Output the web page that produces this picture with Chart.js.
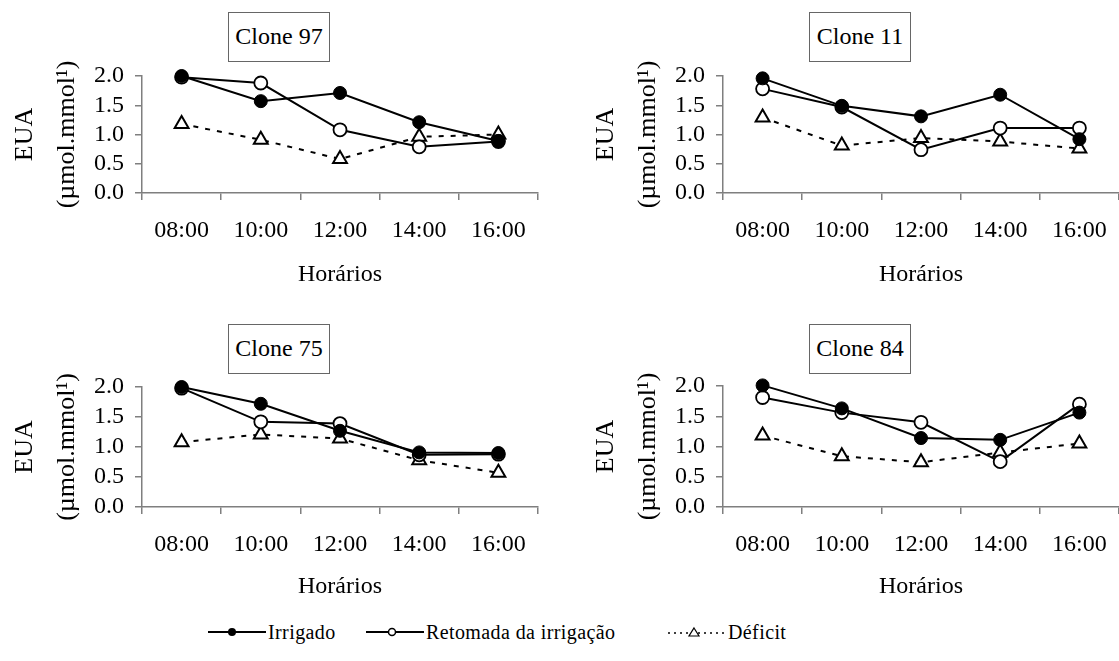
<!DOCTYPE html>
<html>
<head>
<meta charset="utf-8">
<script src="https://cdn.jsdelivr.net/npm/chart.js@4.4.1/dist/chart.umd.min.js"></script>
<style>
  html, body { margin:0; padding:0; background:#fff; width:1119px; height:661px; overflow:hidden; position:relative; font-family:"Liberation Serif", "Times New Roman", serif; }
  canvas { position:absolute; }
  .box { position:absolute; border:1.5px solid #666; background:#fff; font-size:24px; color:#000; text-align:center; box-sizing:border-box; line-height:47px; }
  #legend { position:absolute; top:619px; left:0; width:1119px; height:26px; font-size:20px; letter-spacing:0.4px; color:#000; }
  #legend .item { position:absolute; top:0; height:26px; display:flex; align-items:center; white-space:nowrap; }
  #legend svg { display:block; }
</style>
</head>
<body>
<div id="legend">
  <div class="item" style="left:208px"><svg width="58" height="16"><line x1="0" y1="8" x2="58" y2="8" stroke="#000" stroke-width="2"/><circle cx="24" cy="8" r="4" fill="#000"/></svg><span style="margin-left:2px">Irrigado</span></div>
  <div class="item" style="left:366px"><svg width="58" height="16"><line x1="0" y1="8" x2="58" y2="8" stroke="#000" stroke-width="2"/><circle cx="26" cy="8" r="3.5" fill="#fff" stroke="#000" stroke-width="1.5"/></svg><span style="margin-left:2px">Retomada da irrigação</span></div>
  <div class="item" style="left:668px"><svg width="56" height="16"><line x1="0" y1="9" x2="56" y2="9" stroke="#000" stroke-width="1.5" stroke-dasharray="2,4"/><polygon points="26,4 31,12 21,12" fill="#fff" stroke="#000" stroke-width="1.2"/></svg><span style="margin-left:4px">Déficit</span></div>
</div>
<script>
const horarios = ['08:00', '10:00', '12:00', '14:00', '16:00'];
const seriesNames = ['Irrigado', 'Retomada da irrigação', 'Déficit'];
const yTicks = [0, 0.5, 1.0, 1.5, 2.0];

const clone97Irrigado  = [2.00, 1.57, 1.71, 1.21, 0.89];
const clone97Retomada  = [1.98, 1.88, 1.08, 0.79, 0.88];
const clone97Deficit   = [1.18, 0.91, 0.58, 0.96, 1.00];

const clone11Irrigado  = [1.96, 1.49, 1.31, 1.68, 0.92];
const clone11Retomada  = [1.78, 1.47, 0.74, 1.11, 1.11];
const clone11Deficit   = [1.29, 0.81, 0.94, 0.88, 0.76];

const clone75Irrigado  = [2.00, 1.72, 1.27, 0.91, 0.90];
const clone75Retomada  = [1.98, 1.42, 1.39, 0.87, 0.88];
const clone75Deficit   = [1.08, 1.21, 1.14, 0.78, 0.57];

const clone84Irrigado  = [2.01, 1.63, 1.14, 1.11, 1.56];
const clone84Retomada  = [1.81, 1.56, 1.40, 0.75, 1.70];
const clone84Deficit   = [1.18, 0.84, 0.74, 0.90, 1.05];

const panels = [
  { title: 'Clone 97', irr: clone97Irrigado, ret: clone97Retomada, def: clone97Deficit, left: 0,   top: 0,   areaTop: 76, areaBottom: 193 },
  { title: 'Clone 11', irr: clone11Irrigado, ret: clone11Retomada, def: clone11Deficit, left: 581, top: 0,   areaTop: 76, areaBottom: 193 },
  { title: 'Clone 75', irr: clone75Irrigado, ret: clone75Retomada, def: clone75Deficit, left: 0,   top: 312, areaTop: 75, areaBottom: 195 },
  { title: 'Clone 84', irr: clone84Irrigado, ret: clone84Retomada, def: clone84Deficit, left: 581, top: 312, areaTop: 74, areaBottom: 195 }
];

const FAMILY = '"Liberation Serif", "Times New Roman", serif';
const AXIS_GRAY = '#7f7f7f';
const CW = 560, CH = 300, AREA_LEFT = 142, AREA_RIGHT = 538;

panels.forEach((p) => {
  const cv = document.createElement('canvas');
  cv.width = CW; cv.height = CH;
  cv.style.left = p.left + 'px'; cv.style.top = p.top + 'px';
  document.body.appendChild(cv);

  const box = document.createElement('div');
  box.className = 'box';
  box.textContent = p.title;
  box.style.left = (p.left + 228) + 'px';
  box.style.top = (p.top + 12) + 'px';
  box.style.width = '102px';
  box.style.height = '50px';
  document.body.appendChild(box);

  new Chart(cv, {
    type: 'line',
    data: {
      labels: horarios,
      datasets: [
        { label: seriesNames[0], data: p.irr, borderColor: '#000', borderWidth: 2, backgroundColor: '#000', clip: false,
          pointStyle: 'circle', pointRadius: 6.5, pointBackgroundColor: '#000', pointBorderColor: '#000', pointBorderWidth: 1, tension: 0 },
        { label: seriesNames[1], data: p.ret, borderColor: '#000', borderWidth: 2, backgroundColor: '#fff', clip: false,
          pointStyle: 'circle', pointRadius: 6.5, pointBackgroundColor: '#fff', pointBorderColor: '#000', pointBorderWidth: 1.8, tension: 0 },
        { label: seriesNames[2], data: p.def, borderColor: '#000', borderWidth: 2, borderDash: [5, 7], backgroundColor: '#fff', clip: false,
          pointStyle: 'triangle', pointRadius: 8, pointBackgroundColor: '#fff', pointBorderColor: '#000', pointBorderWidth: 2, tension: 0 }
      ]
    },
    options: {
      animation: false, responsive: false, devicePixelRatio: 1,
      events: [],
      layout: { padding: { top: p.areaTop, right: CW - AREA_RIGHT, left: 0, bottom: 0 } },
      plugins: { legend: { display: false }, tooltip: { enabled: false }, title: { display: false } },
      scales: {
        x: {
          type: 'category', offset: true,
          grid: { offset: true, drawOnChartArea: false, drawTicks: true, tickLength: 7, color: AXIS_GRAY, lineWidth: 1.5 },
          border: { color: AXIS_GRAY, width: 1.5 },
          ticks: { color: '#000', font: { family: FAMILY, size: 24 }, padding: 16, maxRotation: 0, autoSkip: false },
          title: { display: true, text: 'Horários', color: '#000', font: { family: FAMILY, size: 24 }, padding: { top: 0, bottom: 11 } },
          afterFit: (s) => { s.height = CH - p.areaBottom; }
        },
        y: {
          min: 0, max: 2,
          afterBuildTicks: (s) => { s.ticks = yTicks.map(v => ({ value: v })); },
          grid: { drawOnChartArea: false, drawTicks: true, tickLength: 7, color: AXIS_GRAY, lineWidth: 1.5 },
          border: { color: AXIS_GRAY, width: 1.5 },
          ticks: { color: '#000', font: { family: FAMILY, size: 24 }, padding: 11, autoSkip: false, callback: (v) => Number(v).toFixed(1) },
          title: { display: true, text: ['EUA', '(µmol.mmol¹)'], color: '#000', font: { family: FAMILY, size: 26, lineHeight: 1.62 }, padding: { top: 4, bottom: 0 } },
          afterFit: (s) => { s.width = AREA_LEFT; }
        }
      }
    }
  });
});
</script>
</body>
</html>
